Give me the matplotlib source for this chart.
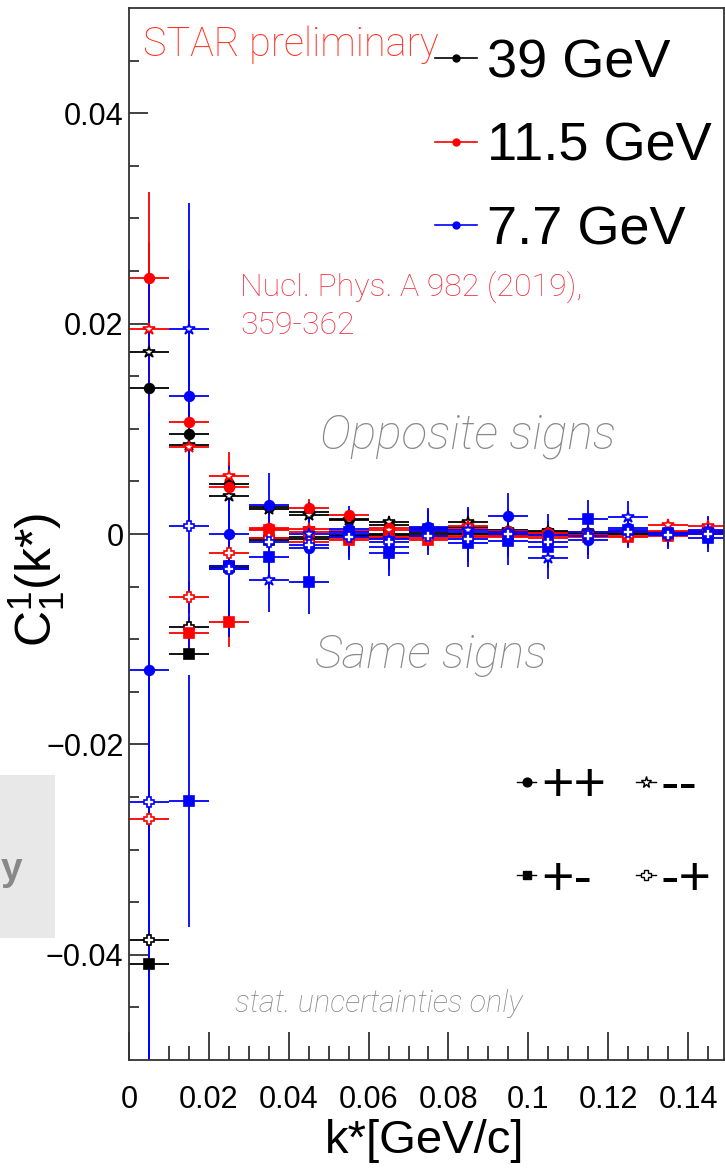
import numpy as np
import matplotlib
matplotlib.use("Agg")
import matplotlib.pyplot as plt
from matplotlib.lines import Line2D
from matplotlib.patches import Rectangle

plt.rcParams['font.family'] = ['Liberation Sans', 'DejaVu Sans']
plt.rcParams['mathtext.fontset'] = 'custom'
plt.rcParams['mathtext.rm'] = 'Liberation Sans'
plt.rcParams['mathtext.it'] = 'Liberation Sans:italic'

# k* bin centres [GeV/c], bin width 0.01
kstar = [0.005, 0.015, 0.025, 0.035, 0.045, 0.055, 0.065, 0.075,
         0.085, 0.095, 0.105, 0.115, 0.125, 0.135, 0.145]
half_bin = 0.005
nan = np.nan

# 39 GeV
c39_pp = [0.0139, 0.0095, 0.0048, 0.0026, 0.0021, 0.0014, 0.0009, 0.0005,
          0.0007, 0.0003, 0.0002, 0.0001, 0.0002, 0.0001, 0.0001]
c39_mm = [0.0173, 0.0085, 0.0036, 0.0024, 0.0018, 0.0013, 0.0011, 0.0006,
          0.0011, 0.0004, 0.0003, 0.0002, 0.0003, 0.0002, 0.0002]
c39_pm = [-0.0409, -0.0114, -0.0031, -0.0006, -0.0005, -0.0002, -0.0001, -0.0001,
          0.0000, -0.0001, 0.0000, 0.0000, 0.0000, 0.0000, 0.0000]
c39_mp = [-0.0386, -0.0088, -0.0030, -0.0004, -0.0003, -0.0001, 0.0000, 0.0001,
          0.0000, 0.0000, 0.0000, 0.0000, 0.0000, 0.0000, 0.0000]
err39 = [0.0007, 0.0005, 0.0004, 0.0003, 0.0003, 0.0002, 0.0002, 0.0002,
         0.0002, 0.0002, 0.0002, 0.0002, 0.0002, 0.0002, 0.0002]

# 11.5 GeV
c115_pp = [0.0243, 0.0106, 0.0045, 0.0006, 0.0025, 0.0018, 0.0006, 0.0003,
           0.0005, 0.0003, 0.0001, -0.0001, 0.0002, 0.0003, 0.0003]
c115_mm = [0.0195, 0.0083, 0.0055, 0.0005, 0.0005, 0.0003, 0.0004, -0.0002,
           0.0008, 0.0002, 0.0001, 0.0002, 0.0003, 0.0009, 0.0008]
c115_pm = [nan, -0.0094, -0.0084, 0.0004, 0.0002, -0.0006, -0.0003, -0.0006,
           -0.0002, -0.0002, -0.0004, -0.0003, -0.0003, -0.0002, 0.0000]
c115_mp = [-0.0271, -0.0060, -0.0018, -0.0004, -0.0008, -0.0004, -0.0004, -0.0004,
           -0.0003, -0.0003, -0.0002, -0.0002, -0.0002, 0.0000, 0.0001]
err115 = [0.0082, 0.0015, 0.0023, 0.0010, 0.0008, 0.0006, 0.0005, 0.0004,
          0.0004, 0.0003, 0.0003, 0.0003, 0.0003, 0.0003, 0.0003]

# 7.7 GeV
c77_pp = [-0.0129, 0.0131, 0.0000, 0.0028, -0.0013, 0.0005, -0.0012, 0.0007,
          0.0002, 0.0017, -0.0001, -0.0006, 0.0006, 0.0001, 0.0002]
c77_mm = [nan, 0.0195, -0.0033, -0.0044, 0.0000, 0.0000, -0.0005, 0.0003,
          0.0004, 0.0002, -0.0023, 0.0002, 0.0016, 0.0001, 0.0004]
c77_pm = [nan, -0.0254, -0.0030, -0.0022, -0.0046, 0.0002, -0.0018, 0.0005,
          -0.0009, -0.0007, -0.0012, 0.0014, 0.0004, 0.0001, -0.0004]
c77_mp = [-0.0255, 0.0008, -0.0033, -0.0008, -0.0010, -0.0003, -0.0008, -0.0002,
          -0.0005, 0.0000, -0.0008, -0.0002, 0.0002, -0.0001, 0.0000]
err77 = [0.037, 0.012, 0.0065, 0.0030, 0.0030, 0.0022, 0.0022, 0.0018,
         0.0022, 0.0022, 0.0020, 0.0018, 0.0015, 0.0013, 0.0013]

energy_labels = ['39 GeV', '11.5 GeV', '7.7 GeV']
energy_colors = ['black', 'red', 'blue']
charge_labels = ['++', '+-', '--', '-+']

# marker style per charge combination: (marker, filled, size)
charge_style = {
    '++': ('o', True, 7),
    '--': ('*', False, 9),
    '+-': ('s', True, 7),
    '-+': ('P', False, 7.5),
}

datasets = [
    ('black', err39, {'++': c39_pp, '--': c39_mm, '+-': c39_pm, '-+': c39_mp}),
    ('red', err115, {'++': c115_pp, '--': c115_mm, '+-': c115_pm, '-+': c115_mp}),
    ('blue', err77, {'++': c77_pp, '--': c77_mm, '+-': c77_pm, '-+': c77_mp}),
]

fig = plt.figure(figsize=(7.25, 11.69), dpi=100)
ax = fig.add_axes([129 / 725, 1 - 1060 / 1169, 595 / 725, 1052 / 1169])

for color, err, series in datasets:
    for ch in ['++', '--', '+-', '-+']:
        mk, filled, ms = charge_style[ch]
        ax.errorbar(kstar, series[ch], xerr=half_bin, yerr=err, fmt=mk,
                    color=color, mfc=color if filled else 'white', mec=color,
                    mew=1.2, ms=ms, elinewidth=1.3, capsize=0)

ax.set_xlim(0, 0.149)
ax.set_ylim(-0.05, 0.05)

ax.set_xticks([0, 0.02, 0.04, 0.06, 0.08, 0.1, 0.12, 0.14])
ax.set_xticklabels(['0', '0.02', '0.04', '0.06', '0.08', '0.1', '0.12', '0.14'])
ax.set_xticks(np.arange(0, 0.149, 0.005), minor=True)
ax.set_yticks([-0.04, -0.02, 0, 0.02, 0.04])
ax.set_yticklabels(['\u22120.04', '\u22120.02', '0', '0.02', '0.04'])
ax.set_yticks(np.arange(-0.045, 0.05, 0.005), minor=True)

ax.tick_params(axis='both', which='both', direction='in', color='#333333', width=1.3)
ax.tick_params(axis='x', which='major', length=20, pad=18, labelsize=22)
ax.tick_params(axis='x', which='minor', length=10)
ax.tick_params(axis='y', which='major', length=14, pad=4, labelsize=22)
ax.tick_params(axis='y', which='minor', length=7)
ax.tick_params(top=False, right=False, which='both')
for sp in ax.spines.values():
    sp.set_color('#333333')
    sp.set_linewidth(1.3)

ax.set_xlabel('k*[GeV/c]', fontsize=34)
ax.xaxis.set_label_coords(0.497, -0.056)
ax.set_ylabel(r'C$_1^1$(k*)', fontsize=36)
ax.yaxis.set_label_coords(-0.105, 0.456)

# energy legend
e_handles = [Line2D([], [], color=c, marker='o', ms=5, lw=1.2) for c in energy_colors]
leg1 = ax.legend(e_handles, energy_labels, loc='center left',
                 bbox_to_anchor=(0.514, 0.868), frameon=False, fontsize=39,
                 handlelength=0.78, handletextpad=0.18, labelspacing=0.62,
                 borderpad=0, borderaxespad=0)
ax.add_artist(leg1)

# charge legend
c_handles = []
for ch in charge_labels:
    mk, filled, ms = charge_style[ch]
    c_handles.append(Line2D([], [], color='black', marker=mk, ms=ms * 0.9,
                            mfc='black' if filled else 'white', mec='black',
                            mew=1.0, lw=1.0))
ax.legend(c_handles, charge_labels, ncol=2, loc='center left',
          bbox_to_anchor=(0.652, 0.215), frameon=False, fontsize=40,
          handlelength=0.35, handletextpad=0.08, columnspacing=0.55,
          labelspacing=0.75, borderpad=0, borderaxespad=0)

light = ['Roboto', 'Lato', 'Liberation Sans']
ax.text(0.0235, 0.965, 'STAR preliminary', transform=ax.transAxes, color='#ff3322',
        fontsize=28.5, family=light, fontweight='light', va='center', ha='left')
ax.text(0.1866, 0.717, 'Nucl. Phys. A 982 (2019),\n359-362', transform=ax.transAxes,
        color='#ee3344', fontsize=23, family=light, fontweight='light',
        va='center', ha='left', linespacing=1.35)
ax.text(0.321, 0.5932, 'Opposite signs', transform=ax.transAxes, color='#888888',
        fontsize=34.5, family=light, fontweight='light', style='italic',
        va='center', ha='left')
ax.text(0.3126, 0.385, 'Same signs', transform=ax.transAxes, color='#888888',
        fontsize=34, family=light, fontweight='light', style='italic',
        va='center', ha='left')
ax.text(0.178, 0.054, 'stat. uncertainties only', transform=ax.transAxes,
        color='#888888', fontsize=22, family=light, fontweight='light',
        style='italic', va='center', ha='left')

# piece of neighbouring panel label on the left
fig.patches.append(Rectangle((0, 1 - 938 / 1169), 55 / 725, 163 / 1169,
                             transform=fig.transFigure, facecolor='#e8e8e8',
                             edgecolor='none', zorder=0))
fig.text(22 / 725, 1 - 880 / 1169, 'y', color='#888888', fontsize=28,
         fontweight='bold', ha='right', va='baseline')

fig.savefig('out.png', dpi=100, facecolor='white')
